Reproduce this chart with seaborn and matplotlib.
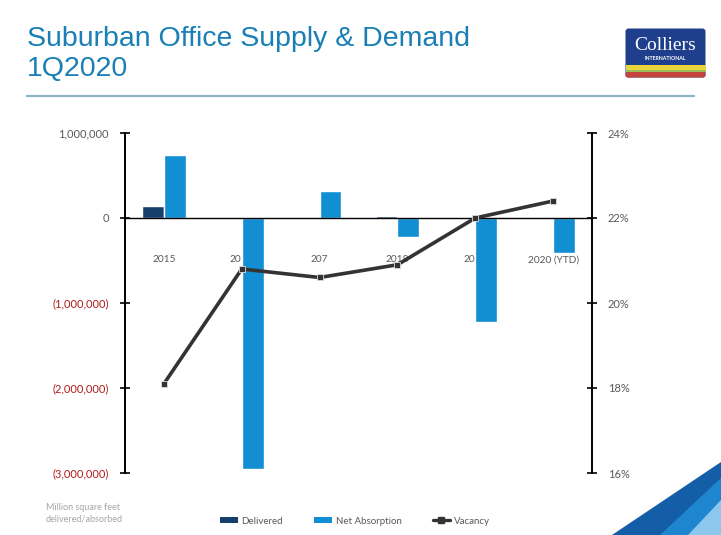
import numpy as np
import pandas as pd
import matplotlib.pyplot as plt
import seaborn as sns
from matplotlib.patches import FancyBboxPatch, Polygon, Patch
from matplotlib.lines import Line2D
from matplotlib.ticker import FuncFormatter

years = ["2015", "2016", "207", "2018", "2019", "2020 (YTD)"]
delivered = [140000, 0, 0, 25000, 0, 0]
net_absorption = [740000, -2950000, 320000, -220000, -1220000, -410000]
vacancy = [18.1, 20.8, 20.6, 20.9, 22.0, 22.4]

df = pd.DataFrame({"year": years, "Delivered": delivered, "Net Absorption": net_absorption})
bars = df.melt(id_vars="year", var_name="series", value_name="sf")
vac = pd.DataFrame({"year": years, "vacancy": vacancy})

navy = "#173f6e"
blue = "#128fd2"
grey = "#595959"

sns.set_style("white")
plt.rcParams["font.family"] = ["Lato", "DejaVu Sans"]

fig = plt.figure(figsize=(7.21, 5.35), dpi=100)
ax = fig.add_axes([125 / 721, 1 - 473 / 535, 467 / 721, 340 / 535])

sns.barplot(data=bars, x="year", y="sf", hue="series", order=years,
            hue_order=["Delivered", "Net Absorption"],
            palette={"Delivered": navy, "Net Absorption": blue},
            width=0.56, saturation=1, legend=False, ax=ax, zorder=2)

ax2 = ax.twinx()
sns.pointplot(data=vac, x="year", y="vacancy", order=years, color="#333333",
              marker="s", markersize=5, linewidth=2.6, markeredgecolor="#dddddd",
              markeredgewidth=0.6, ax=ax2)

# axes limits / ticks
ax.set_xlim(-0.5, len(years) - 0.5)
ax.set_ylim(-3000000, 1000000)
ax.set_yticks(np.arange(-3000000, 1000001, 1000000))
ax2.set_ylim(16, 24)
ax2.set_yticks(np.arange(16, 25, 2))
ax.set_xlabel("")
ax.set_ylabel("")
ax2.set_xlabel("")
ax2.set_ylabel("")

ax.set_xticks(np.arange(0.5, len(years) - 0.5, 1))
ax.set_xticklabels([])

def fmt_sf(v, pos):
    if v < 0:
        return "({:,.0f})".format(-v)
    return "{:,.0f}".format(v)

ax.yaxis.set_major_formatter(FuncFormatter(fmt_sf))
ax2.yaxis.set_major_formatter(FuncFormatter(lambda v, p: "{:.0f}%".format(v)))

for s in ["top", "right"]:
    ax.spines[s].set_visible(False)
ax.spines["bottom"].set_position(("data", 0))
ax.spines["left"].set_color("black")
ax.spines["bottom"].set_color("black")
ax.spines["left"].set_linewidth(1.4)
ax.spines["bottom"].set_linewidth(1.0)
for s in ["top", "left", "bottom"]:
    ax2.spines[s].set_visible(False)
ax2.spines["right"].set_color("black")
ax2.spines["right"].set_linewidth(1.4)

ax.tick_params(axis="y", direction="inout", length=7, width=1.2, colors="black",
               labelsize=8, labelcolor=grey, pad=8)
ax.tick_params(axis="x", direction="inout", length=9, width=1.2, colors="black")
ax2.tick_params(axis="y", direction="inout", length=7, width=1.2, colors="black",
                labelsize=8, labelcolor=grey, pad=8)

for lbl, v in zip(ax.get_yticklabels(), ax.get_yticks()):
    if v < 0:
        lbl.set_color("#b01c1c")

for i, y in enumerate(years):
    ax.text(i, -490000, y, ha="center", va="center", fontsize=7.3, color=grey, zorder=1)

# title and rule
fig.text(27 / 721, 1 - 54 / 535, "Suburban Office Supply & Demand\n1Q2020",
         family="Liberation Sans", fontsize=20.5, color="#1a7fb5",
         ha="left", va="center", linespacing=1.2)
fig.add_artist(Line2D([27 / 721, 694 / 721], [1 - 96 / 535, 1 - 96 / 535],
                      color="#8fb3c6", linewidth=1.6))

# logo
lax = fig.add_axes([625 / 721, 1 - 78 / 535, 81 / 721, 50 / 535])
lax.set_xlim(0, 81)
lax.set_ylim(0, 50)
lax.axis("off")
lax.add_patch(FancyBboxPatch((0.5, 0.5), 80, 49, boxstyle="round,pad=0,rounding_size=3",
                             fc="#1f3f8c", ec="none"))
lax.add_patch(plt.Rectangle((0.5, 8), 80, 5, fc="#e8d33a", ec="none"))
lax.add_patch(plt.Rectangle((0.5, 6), 80, 2, fc="#9bbf59", ec="none"))
lax.add_patch(FancyBboxPatch((0.5, 0.5), 80, 5.5, boxstyle="round,pad=0,rounding_size=2",
                             fc="#c4453d", ec="none"))
lax.text(40.5, 33, "Colliers", family="Liberation Serif", fontsize=14,
         color="white", ha="center", va="center")
lax.text(40.5, 20, "INTERNATIONAL", fontsize=3.8, color="white", ha="center",
         va="center", weight="bold")

# corner graphic
def fp(x, y):
    return (x / 721, 1 - y / 535)

fig.add_artist(Polygon([fp(612, 535), fp(721, 462), fp(721, 535)], closed=True,
                       transform=fig.transFigure, fc="#135ea6", ec="none"))
fig.add_artist(Polygon([fp(660, 535), fp(721, 478), fp(721, 535)], closed=True,
                       transform=fig.transFigure, fc="#1d86cf", ec="none"))
fig.add_artist(Polygon([fp(688, 535), fp(721, 500), fp(721, 535)], closed=True,
                       transform=fig.transFigure, fc="#8cc8ee", ec="none"))

# footnote
fig.text(46 / 721, 1 - 513 / 535, "Million square feet\ndelivered/absorbed",
         fontsize=6.5, color="#a6a6a6", ha="left", va="center", linespacing=1.3)

# legend
handles = [Patch(fc=navy, ec="none", label="Delivered"),
           Patch(fc=blue, ec="none", label="Net Absorption"),
           Line2D([], [], color="#333333", linewidth=2.4, marker="s", markersize=4,
                  label="Vacancy")]
fig.legend(handles=handles, loc="center", bbox_to_anchor=(355 / 721, 1 - 521 / 535),
           ncol=3, frameon=False, fontsize=7, labelcolor=grey, handlelength=1.8,
           handleheight=0.6, columnspacing=3.2, handletextpad=0.4)

fig.savefig("out.png", dpi=100)
